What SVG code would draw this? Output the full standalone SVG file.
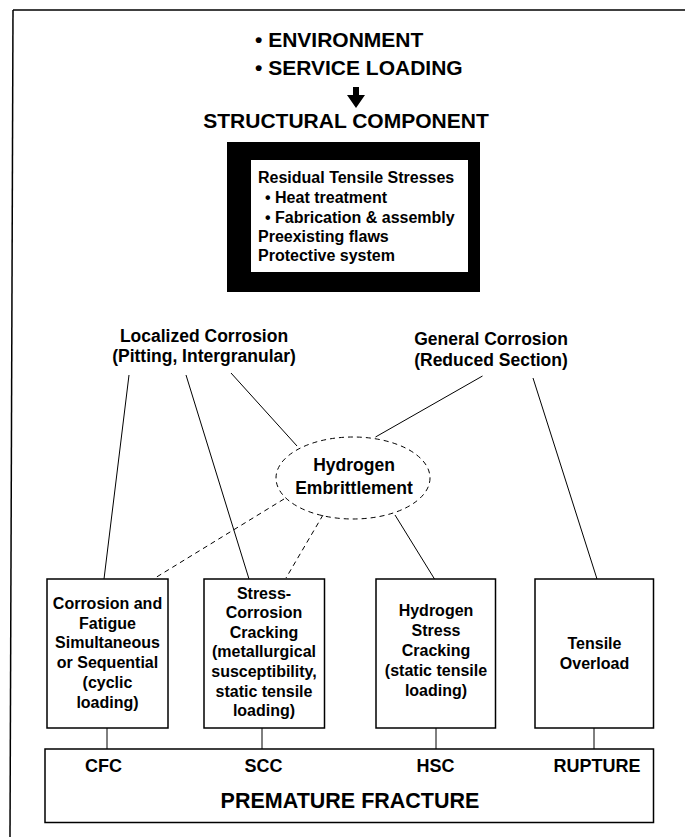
<svg xmlns="http://www.w3.org/2000/svg" width="685" height="837" viewBox="0 0 685 837">
<style>
text{font-family:"Liberation Sans",Arial,Helvetica,sans-serif;font-weight:bold;fill:#000}
.h{font-size:21px}
.b{font-size:16px}
.m{font-size:17.5px;text-anchor:middle}
.c{font-size:16px;text-anchor:middle}
.box{fill:#fff;stroke:#000;stroke-width:1.5}
.ln{stroke:#000;stroke-width:1;fill:none}
.dash{stroke:#000;stroke-width:1;fill:none;stroke-dasharray:5 4}
</style>
<rect x="0" y="0" width="685" height="837" fill="#fff"/>
<g id="frame">
<line x1="13" y1="10" x2="685" y2="10" stroke="#000" stroke-width="1.5"/>
<line x1="13" y1="10" x2="10" y2="837" stroke="#000" stroke-width="1.5"/>
</g>
<g id="heading">
<text class="h" x="255" y="47">• ENVIRONMENT</text>
<text class="h" x="255" y="75">• SERVICE LOADING</text>
<path d="M353,87 H359 V95 H365 L356,108 L347,95 H353 Z" fill="#000"/>
<text class="h" x="346" y="128" text-anchor="middle">STRUCTURAL COMPONENT</text>
</g>
<g id="component">
<rect x="227" y="142" width="253" height="150" fill="#000"/>
<rect x="251" y="160" width="217" height="112" fill="#fff"/>
<text class="b" x="258" y="183">Residual Tensile Stresses</text>
<text class="b" x="265" y="203">• Heat treatment</text>
<text class="b" x="265" y="222.5">• Fabrication &amp; assembly</text>
<text class="b" x="258" y="242">Preexisting flaws</text>
<text class="b" x="258" y="261">Protective system</text>
</g>
<g id="localized">
<text class="m" x="204" y="342">Localized Corrosion</text>
<text class="m" x="204" y="362">(Pitting, Intergranular)</text>
</g>
<g id="general">
<text class="m" x="491" y="345">General Corrosion</text>
<text class="m" x="491" y="366">(Reduced Section)</text>
</g>
<g id="hydrogen">
<ellipse class="dash" cx="353" cy="478" rx="77" ry="41"/>
<text class="m" x="354" y="471">Hydrogen</text>
<text class="m" x="354" y="494">Embrittlement</text>
</g>
<g id="connectors">
<line class="ln" x1="129" y1="375" x2="104" y2="579"/>
<line class="ln" x1="186" y1="375" x2="249" y2="579"/>
<line class="ln" x1="231" y1="373" x2="297" y2="446"/>
<line class="ln" x1="482.5" y1="376" x2="375.5" y2="437"/>
<line class="ln" x1="533" y1="378" x2="597" y2="579"/>
<line class="dash" x1="284" y1="499" x2="155" y2="578"/>
<line class="dash" x1="323" y1="515" x2="286" y2="578"/>
<line class="ln" x1="395" y1="515" x2="434.5" y2="579"/>
<line class="ln" x1="107" y1="728" x2="107" y2="749"/>
<line class="ln" x1="262" y1="728" x2="262" y2="749"/>
<line class="ln" x1="436" y1="728" x2="436" y2="749"/>
<line class="ln" x1="594" y1="728" x2="594" y2="749"/>
</g>
<g id="cfc-box">
<rect class="box" x="47" y="579" width="121" height="149"/>
<text class="c" x="107.5" y="609">Corrosion and</text>
<text class="c" x="107.5" y="628.5">Fatigue</text>
<text class="c" x="107.5" y="648">Simultaneous</text>
<text class="c" x="107.5" y="668">or Sequential</text>
<text class="c" x="107.5" y="688">(cyclic</text>
<text class="c" x="107.5" y="708">loading)</text>
</g>
<g id="scc-box">
<rect class="box" x="204" y="579" width="120.5" height="149"/>
<text class="c" x="264" y="598.5">Stress-</text>
<text class="c" x="264" y="618">Corrosion</text>
<text class="c" x="264" y="637.5">Cracking</text>
<text class="c" x="264" y="657">(metallurgical</text>
<text class="c" x="264" y="676.5">susceptibility,</text>
<text class="c" x="264" y="696.5">static tensile</text>
<text class="c" x="264" y="716">loading)</text>
</g>
<g id="hsc-box">
<rect class="box" x="376" y="579" width="119.5" height="149"/>
<text class="c" x="436" y="616">Hydrogen</text>
<text class="c" x="436" y="636">Stress</text>
<text class="c" x="436" y="656">Cracking</text>
<text class="c" x="436" y="676">(static tensile</text>
<text class="c" x="436" y="696">loading)</text>
</g>
<g id="overload-box">
<rect class="box" x="535" y="579" width="118.5" height="149"/>
<text class="c" x="594.5" y="648.5">Tensile</text>
<text class="c" x="594.5" y="668.5">Overload</text>
</g>
<g id="fracture">
<rect class="box" x="45" y="749" width="608.5" height="73.5"/>
<text style="font-size:18px" x="103.5" y="772" text-anchor="middle">CFC</text>
<text style="font-size:18px" x="263.5" y="772" text-anchor="middle">SCC</text>
<text style="font-size:18px" x="435.5" y="772" text-anchor="middle">HSC</text>
<text style="font-size:18px" x="597" y="772" text-anchor="middle">RUPTURE</text>
<text style="font-size:21.5px" x="350" y="808" text-anchor="middle">PREMATURE FRACTURE</text>
</g>
</svg>
